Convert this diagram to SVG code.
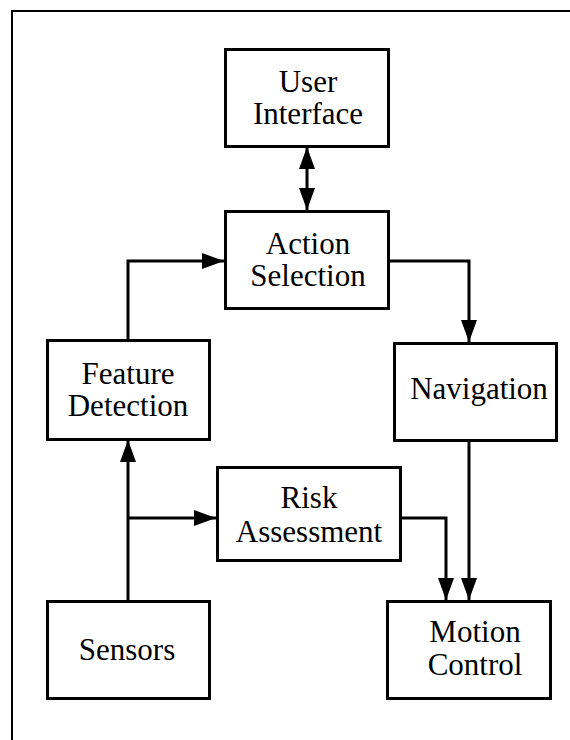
<svg xmlns="http://www.w3.org/2000/svg" width="570" height="740" viewBox="0 0 570 740">
<defs>
<marker id="ah" viewBox="0 0 22 16" refX="22" refY="8" markerWidth="22" markerHeight="16" markerUnits="userSpaceOnUse" orient="auto-start-reverse">
<path d="M0,0 L22,8 L0,16 Z" fill="#000"/>
</marker>
<style>
.box{fill:#fff;stroke:#000;stroke-width:3}
.lbl{font-family:'Liberation Serif',serif;font-size:31px;fill:#000;text-anchor:middle}
.con{fill:none;stroke:#000;stroke-width:3}
.frame{fill:none;stroke:#000;stroke-width:2}
</style>
</defs>
<rect width="570" height="740" fill="#fff"/>
<path class="frame" d="M12,740 V11 H570"/>
<g id="connectors">
<path class="con" d="M307,147 V210" marker-start="url(#ah)" marker-end="url(#ah)"/>
<path class="con" d="M128,340 V261 H224" marker-end="url(#ah)"/>
<path class="con" d="M388,261 H469 V342" marker-end="url(#ah)"/>
<path class="con" d="M469,441 V600" marker-end="url(#ah)"/>
<path class="con" d="M401,518 H446 V600" marker-end="url(#ah)"/>
<path class="con" d="M128,601 V440" marker-end="url(#ah)"/>
<path class="con" d="M128,518 H216" marker-end="url(#ah)"/>
</g>
<g id="user-interface">
<rect class="box" x="225.5" y="49.5" width="163" height="97"/>
<text class="lbl" x="308" y="92" font-family="Liberation Serif, serif">User</text>
<text class="lbl" x="308" y="124" font-family="Liberation Serif, serif">Interface</text>
</g>
<g id="action-selection">
<rect class="box" x="225.5" y="211.5" width="163" height="97"/>
<text class="lbl" x="308" y="254">Action</text>
<text class="lbl" x="308" y="286">Selection</text>
</g>
<g id="feature-detection">
<rect class="box" x="47.5" y="340.5" width="162" height="99"/>
<text class="lbl" x="128" y="384">Feature</text>
<text class="lbl" x="128" y="416">Detection</text>
</g>
<g id="navigation">
<rect class="box" x="394.5" y="343.5" width="162" height="97"/>
<text class="lbl" x="479" y="399">Navigation</text>
</g>
<g id="risk-assessment">
<rect class="box" x="217.5" y="467.5" width="183" height="93"/>
<text class="lbl" x="309" y="508">Risk</text>
<text class="lbl" x="309" y="542">Assessment</text>
</g>
<g id="sensors">
<rect class="box" x="47.5" y="601.5" width="162" height="97"/>
<text class="lbl" x="127" y="660">Sensors</text>
</g>
<g id="motion-control">
<rect class="box" x="387.5" y="601.5" width="163" height="97"/>
<text class="lbl" x="475" y="642">Motion</text>
<text class="lbl" x="475" y="675">Control</text>
</g>
</svg>
